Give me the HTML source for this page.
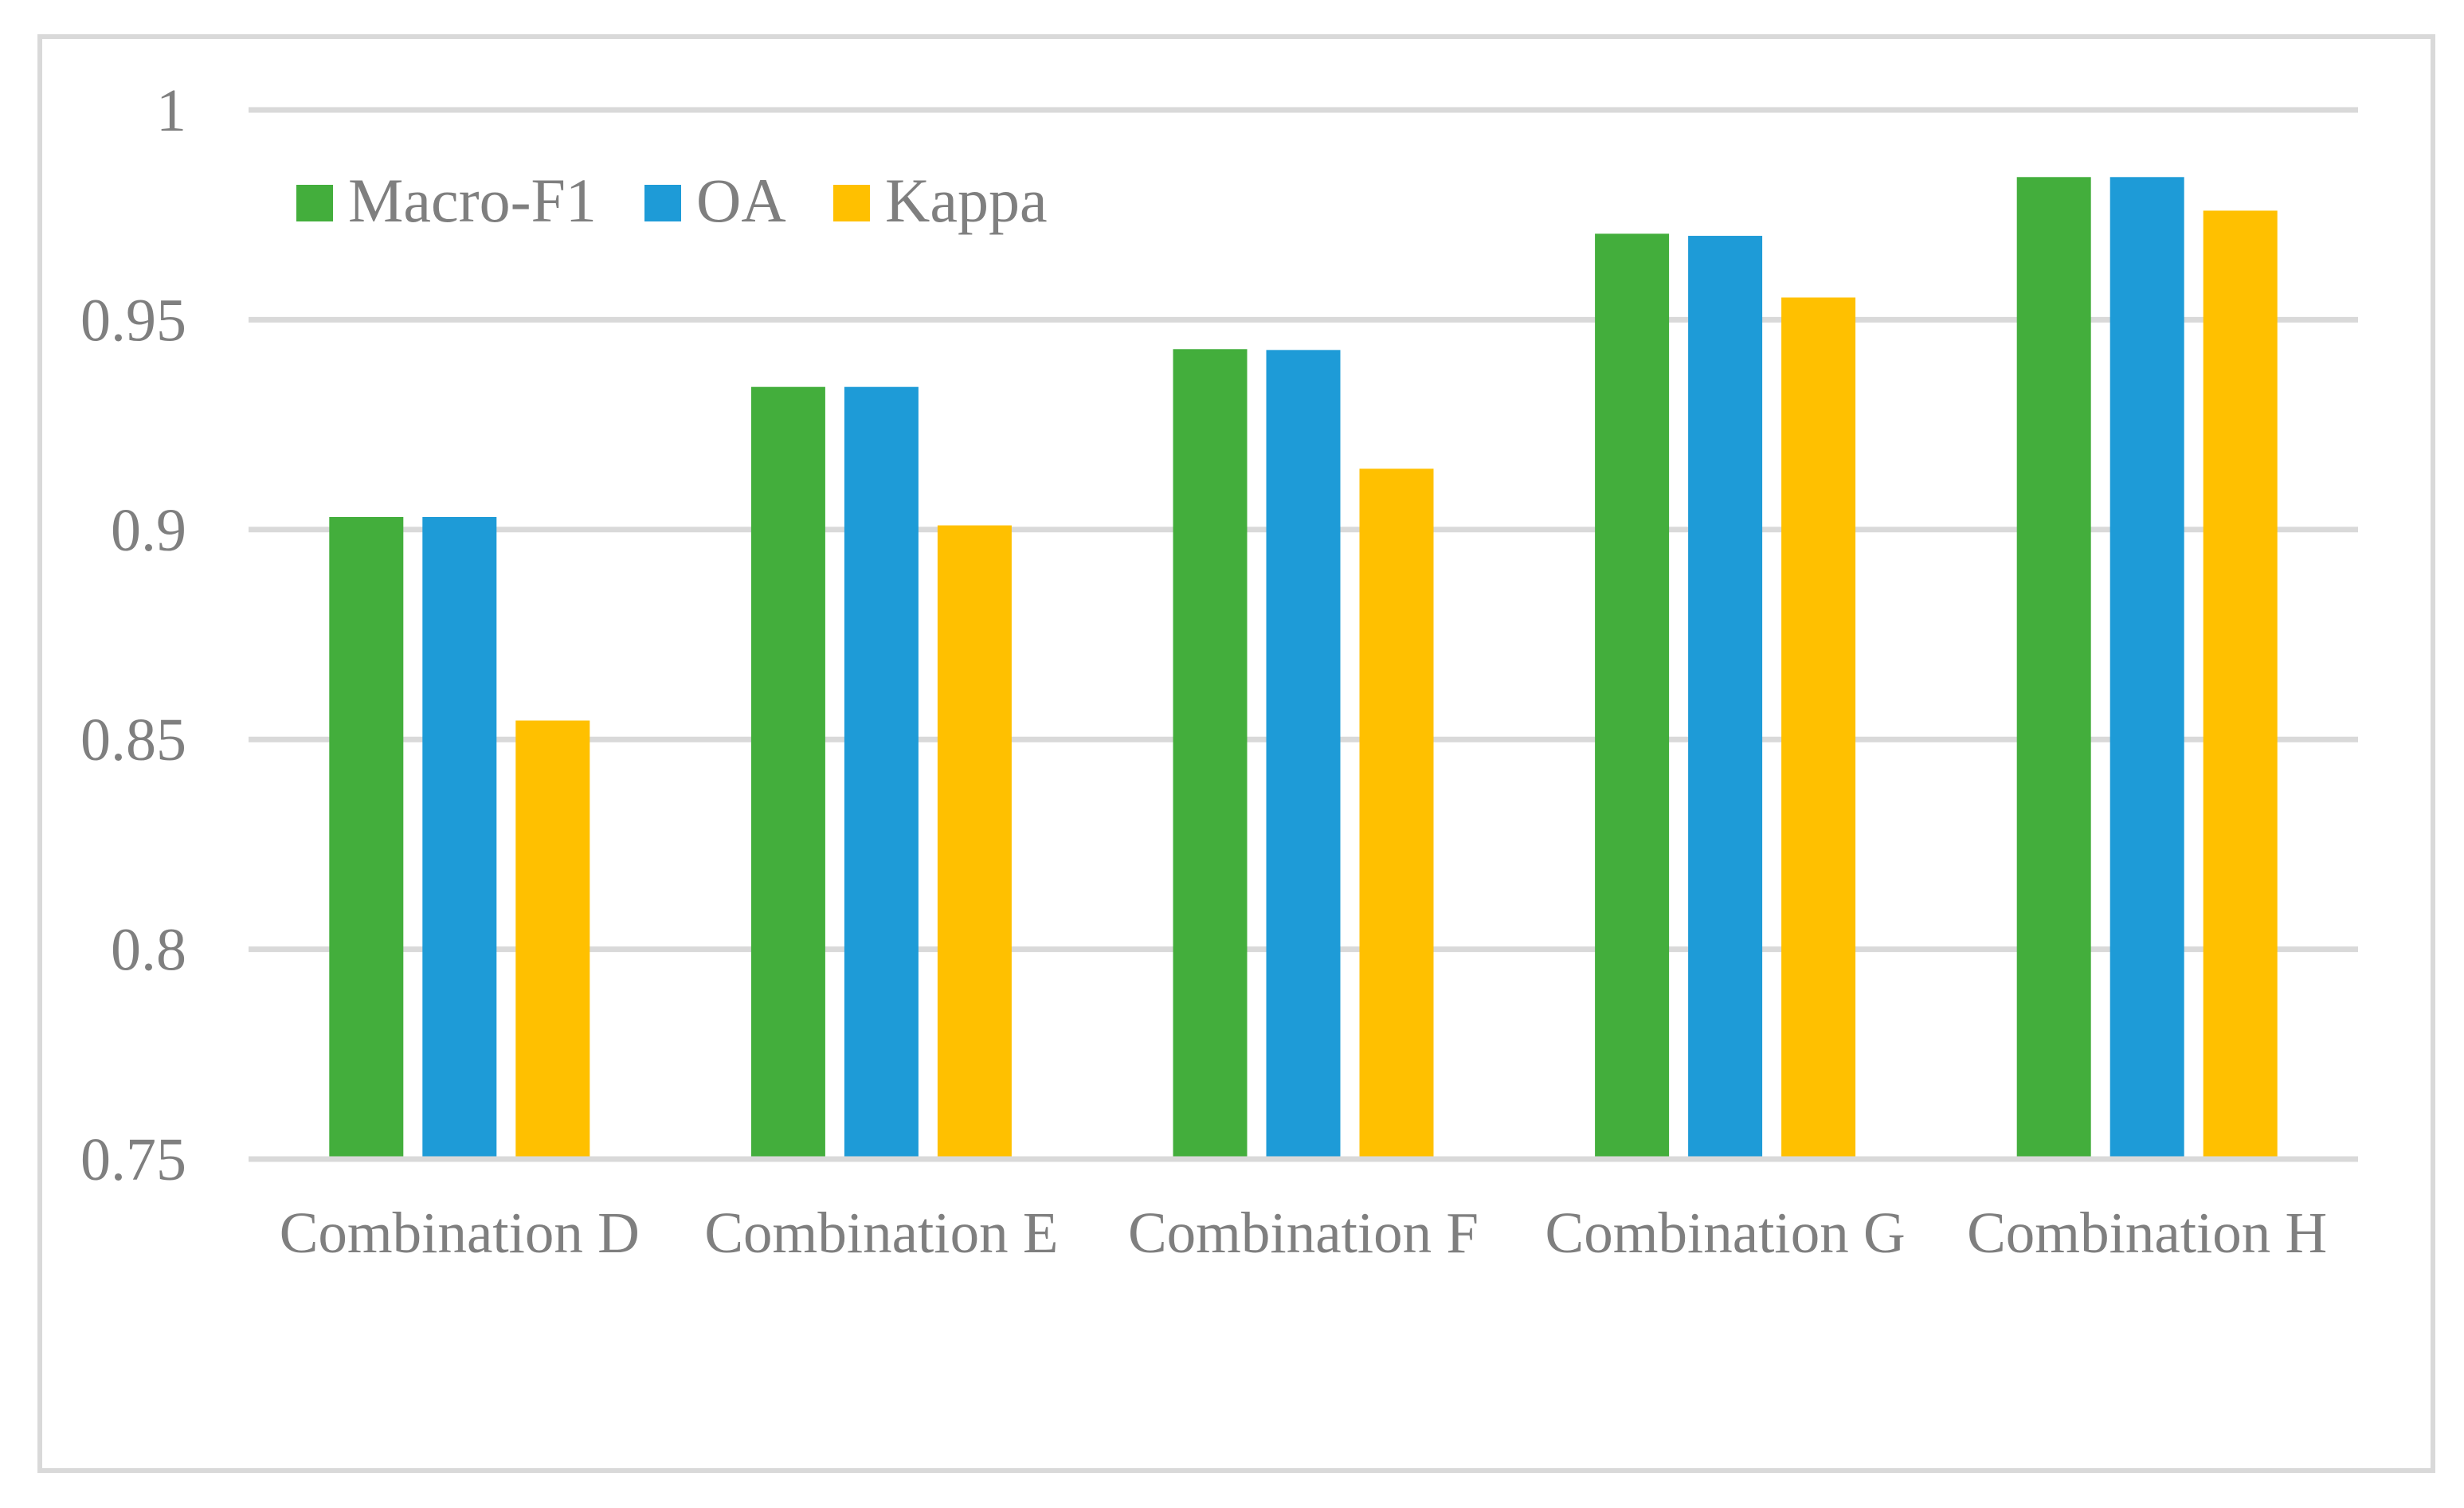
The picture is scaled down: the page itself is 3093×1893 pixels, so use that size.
<!DOCTYPE html>
<html><head><meta charset="utf-8"><style>
html,body{margin:0;padding:0;background:#fff;}
svg{display:block;}
text{font-family:"Liberation Serif",serif;fill:#7f7f7f;}
</style></head><body>
<svg id="chart" width="3093" height="1893" viewBox="0 0 3093 1893" xmlns="http://www.w3.org/2000/svg">
<rect x="50" y="46" width="3004" height="1800" fill="#fff" stroke="#d9d9d9" stroke-width="6"/>
<g id="grid"></g><g id="bars"></g><g id="yticks"></g><g id="xticks"></g>
<g id="legend"></g>
</svg>
<script>
const categories=["Combination D","Combination E","Combination F","Combination G","Combination H"];
const seriesNames=["Macro-F1","OA","Kappa"];
const macroF1=[0.903,0.934,0.943,0.9705,0.984];
const oa=[0.903,0.934,0.9428,0.970,0.984];
const kappa=[0.8545,0.901,0.9145,0.9553,0.976];
const yTicks=[0.75,0.8,0.85,0.9,0.95,1];
const yTickLabels=["0.75","0.8","0.85","0.9","0.95","1"];
const colors=["#43ae3c","#1e9bd7","#ffc000"];
const NS="http://www.w3.org/2000/svg";
const X0=312,X1=2960,Y0=1455,Y1=138,VMIN=0.75,VMAX=1;
function y(v){return Y0-(v-VMIN)/(VMAX-VMIN)*(Y0-Y1);}
const band=(X1-X0)/categories.length;
function xc(i){return X0+band*(i+0.5);}
function mk(tag,attrs,parent){const e=document.createElementNS(NS,tag);for(const k in attrs)e.setAttribute(k,attrs[k]);document.getElementById(parent).appendChild(e);return e;}
yTicks.forEach((t,i)=>{
  const l=mk('line',{x1:X0,x2:X1,y1:y(t),y2:y(t),stroke:'#d9d9d9','stroke-width':7},'grid');
  
  
  const tx=mk('text',{x:234,y:y(t)+26,'text-anchor':'end','font-size':76},'yticks');
  tx.textContent=yTickLabels[i];
  
  
});
const series=[macroF1,oa,kappa];
const bw=93,step=117;
series.forEach((s,si)=>{
  s.forEach((v,i)=>{
    const cx=xc(i)+(si-1)*step;
    const r=mk('rect',{x:cx-bw/2,y:y(v),width:bw,height:Y0-3.5-y(v),fill:colors[si]},'bars');
    
    
  });
});
categories.forEach((c,i)=>{
  const t=mk('text',{x:xc(i),y:1572,'text-anchor':'middle','font-size':73},'xticks');
  t.textContent=c;
  
  
});
const legX=[372,809,1046];
seriesNames.forEach((n,i)=>{
  const r=mk('rect',{x:legX[i],y:232,width:46,height:46,fill:colors[i]},'legend');
  
  
  const t=mk('text',{x:legX[i]+65,y:278,'font-size':78},'legend');
  t.textContent=n;
  
  
});
</script>
</body></html>
